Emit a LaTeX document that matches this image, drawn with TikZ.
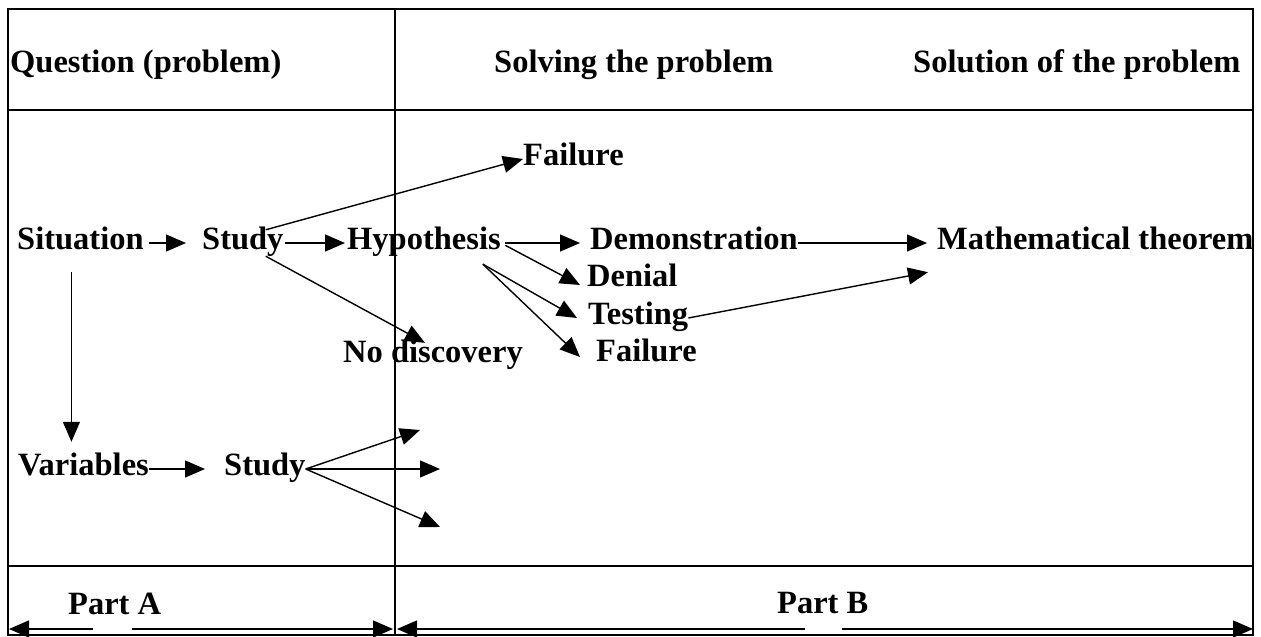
\documentclass[tikz,border=0pt]{standalone}
\usepackage{fontspec}
\setmainfont{Liberation Serif}
\usetikzlibrary{arrows.meta}
\tikzstyle{lbl}=[anchor=base west,inner sep=0pt,text height=19pt,text depth=7pt,font=\fontsize{32.5}{38}\selectfont\bfseries]
\tikzstyle{arr}=[-{Triangle[length=20pt,width=17pt]},line width=1.4pt]
\tikzstyle{frm}=[line width=2pt]

\begin{document}
\begin{tikzpicture}[x=1pt,y=-1pt]
\useasboundingbox (0,0) rectangle (1261,637);
% table
\draw[frm] (8,9) rectangle (1253,635);
\draw[frm] (395,9) -- (395,635);
\draw[frm] (8,110) -- (1253,110);
\draw[frm] (8,566) -- (1253,566);
% headers
\draw (10,72) node[lbl] (qst) {Question (problem)};
\draw (494,72) node[lbl] (slv) {Solving the problem};
\draw (913,72) node[lbl] (sol) {Solution of the problem};
% first row
\draw (17,249) node[lbl] (sit) {Situation};
\draw (202,249) node[lbl] (stA) {Study};
\draw (347,249) node[lbl] (hyp) {Hypothesis};
\draw (590,249) node[lbl] (dem) {Demonstration};
\draw (937,249) node[lbl] (thm) {Mathematical theorem};
\draw (523,165) node[lbl] (flA) {Failure};
\draw (343,362) node[lbl] (nod) {No discovery};
\draw (587,286) node[lbl] (den) {Denial};
\draw (588,324) node[lbl] (tst) {Testing};
\draw (596,361) node[lbl] (flB) {Failure};
% second row
\draw (18,475) node[lbl] (var) {Variables};
\draw (224,475) node[lbl] (stB) {Study};
% parts
\draw (68,614) node[lbl] (pA) {Part A};
\draw (777,613) node[lbl] (pB) {Part B};
% arrows
\draw[arr,shorten <=5pt,shorten >=16pt] (sit) -- (stA);
\draw[arr,shorten <=1pt,shorten >=2pt] (stA) -- (hyp);
\draw[arr] (stA.30) -- (flA.west);
\draw[arr] (stA.-30) -- ([xshift=-8pt]nod.north);
\draw[arr,shorten <=4pt,shorten >=10pt] (hyp) -- (dem);
\draw[arr,shorten <=5pt] (hyp.east) -- ([xshift=-7pt,yshift=-5pt]den.west);
\coordinate (fork) at ([xshift=-18pt,yshift=-8pt]hyp.south east);
\draw[arr] (fork) -- ([xshift=-11pt]tst.west);
\draw[arr] (fork) -- ([xshift=-16pt,yshift=-2pt]flB.west);
\draw[arr,shorten >=10pt] (dem) -- (thm);
\coordinate (thmin) at ([xshift=-9pt,yshift=-16pt]thm.south west);
\draw[arr] (tst.east) -- (thmin);
\coordinate (down) at ([xshift=-9pt,yshift=-16pt]sit.south);
\draw[arr] (down) -- ([yshift=14pt]var.north -| down);
\draw[arr,shorten >=19pt] (var) -- (stB);
\coordinate (outA) at (420,430);
\coordinate (outB) at (440,469);
\coordinate (outC) at (440,527);
\draw[arr] (stB.east) -- (outA);
\draw[arr] (stB.east) -- (outB);
\draw[arr] (stB.east) -- (outC);
% part spans
\coordinate (lA) at (9,629);
\coordinate (rA) at (393,629);
\coordinate (lB) at (397,629);
\coordinate (rB) at (1253,629);
\coordinate (gA1) at (93,629);
\coordinate (gA2) at (132,629);
\coordinate (gB1) at (805,629);
\coordinate (gB2) at (842,629);
\draw[arr] (gA1) -- (lA);
\draw[arr] (gA2) -- (rA);
\draw[arr] (gB1) -- (lB);
\draw[arr] (gB2) -- (rB);
\end{tikzpicture}
\end{document}
